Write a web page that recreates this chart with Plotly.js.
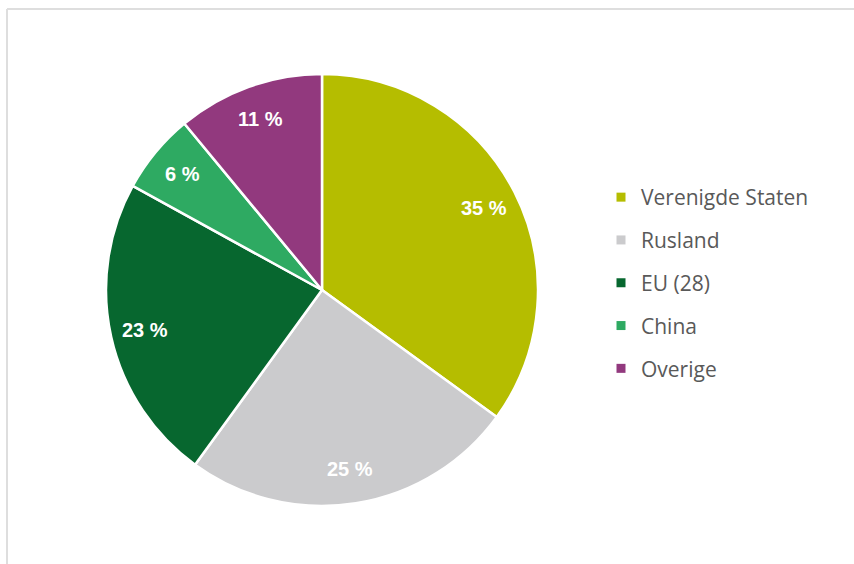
<!DOCTYPE html>
<html>
<head>
<meta charset="utf-8">
<script src="https://cdn.plot.ly/plotly-3.0.1.min.js"></script>
<style>
  html, body { margin: 0; padding: 0; background: #ffffff; }
  #pieChart { width: 854px; height: 564px; }
</style>
</head>
<body>
<div id="pieChart"></div>
<script>
let categories = ["Verenigde Staten", "Rusland", "EU (28)", "China", "Overige"];
let shares = [35, 25, 23, 6, 11];
let sliceColors = ["#b5bd00", "#cbcbcd", "#07672f", "#2eaa62", "#92397e"];

let figWidth = 854;
let figHeight = 564;
let centerX = 322;
let centerY = 290;
let radius = 216;

// pie itself, legend is drawn from dummy traces so the rows can be spaced out
let pieTrace = {
  type: "pie",
  labels: categories,
  values: shares,
  sort: false,
  direction: "clockwise",
  rotation: 0,
  textinfo: "none",
  hoverinfo: "label+percent",
  showlegend: false,
  marker: {
    colors: sliceColors,
    line: { color: "#ffffff", width: 2.5 }
  },
  domain: {
    x: [(centerX - radius) / figWidth, (centerX + radius) / figWidth],
    y: [1 - (centerY + radius) / figHeight, 1 - (centerY - radius) / figHeight]
  }
};

let legendTraces = categories.map(function(name, i) {
  return {
    type: "scatter",
    mode: "markers",
    x: [null],
    y: [null],
    name: name,
    legendgroup: "g" + i,
    marker: { symbol: "square", size: 9, color: sliceColors[i] }
  };
});

// percent labels placed along the slice mid-angles
let total = shares.reduce(function(a, b) { return a + b; }, 0);
let running = 0;
let labelAnnotations = shares.map(function(v) {
  let mid = (running + v / 2) / total * 2 * Math.PI;
  running += v;
  let r = radius * 0.84;
  return {
    xref: "paper",
    yref: "paper",
    x: (centerX + r * Math.sin(mid)) / figWidth,
    y: 1 - (centerY - r * Math.cos(mid)) / figHeight,
    xanchor: "center",
    yanchor: "middle",
    text: "<b>" + v + " %</b>",
    showarrow: false,
    font: { family: "Liberation Sans, Arial, sans-serif", size: 20, color: "#ffffff" }
  };
});

let borderColor = "#dedede";
let layout = {
  width: figWidth,
  height: figHeight,
  margin: { t: 0, l: 0, r: 0, b: 0 },
  paper_bgcolor: "#ffffff",
  plot_bgcolor: "#ffffff",
  xaxis: { visible: false },
  yaxis: { visible: false },
  showlegend: true,
  legend: {
    x: 601 / figWidth,
    xanchor: "left",
    y: 1 - 177 / figHeight,
    yanchor: "top",
    tracegroupgap: 12.5,
    itemwidth: 30,
    bgcolor: "rgba(0,0,0,0)",
    font: { family: "Open Sans, sans-serif", size: 21, color: "#595959" }
  },
  annotations: labelAnnotations,
  shapes: [
    { type: "line", xref: "paper", yref: "paper", x0: 7 / figWidth, x1: 1, y0: 1 - 9 / figHeight, y1: 1 - 9 / figHeight,
      line: { color: borderColor, width: 2 } },
    { type: "line", xref: "paper", yref: "paper", x0: 7 / figWidth, x1: 7 / figWidth, y0: 0, y1: 1 - 9 / figHeight,
      line: { color: borderColor, width: 2 } }
  ]
};

Plotly.newPlot("pieChart", [pieTrace].concat(legendTraces), layout, { staticPlot: true });
</script>
</body>
</html>
